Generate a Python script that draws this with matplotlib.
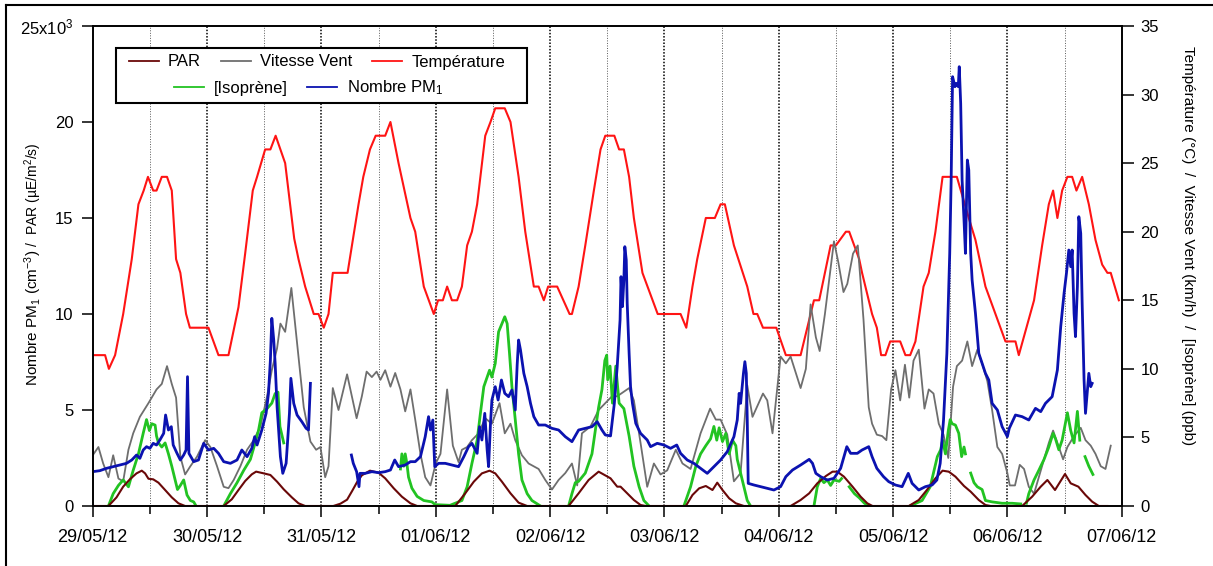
import numpy as np
import matplotlib
matplotlib.use('Agg')
from matplotlib import pyplot as plt
from matplotlib.patches import Rectangle
from matplotlib.lines import Line2D

plt.rcParams['font.family'] = 'Liberation Sans'
plt.rcParams['mathtext.fontset'] = 'custom'
plt.rcParams['mathtext.rm'] = 'Liberation Sans'
plt.rcParams['mathtext.it'] = 'Liberation Sans:italic'
plt.rcParams['mathtext.bf'] = 'Liberation Sans:bold'

nan = np.nan

# time axis: hours since 29/05/12 00:00
day_ticks = list(range(0, 217, 24))
day_labels = ['29/05/12', '30/05/12', '31/05/12', '01/06/12', '02/06/12',
              '03/06/12', '04/06/12', '05/06/12', '06/06/12', '07/06/12']
noon_ticks = list(range(12, 216, 24))

# Temperature (deg C), right axis
temp_h = [0, 2.6, 3.4, 4.7, 6.4, 8.2, 9.6, 10.7, 11.6, 12.7, 13.4, 14.5, 15.6,
          16.6, 17.5, 18.4, 19.6, 20.4, 24.3, 26.4, 28.5, 30.6, 32, 33.6, 34.5,
          36.2, 37.3, 38.4, 40.4, 42.3, 43.2, 44.6, 46.4, 47.4, 48.5, 49.5, 50.4,
          53.5, 55.8, 56.8, 58.2, 59.4, 61.4, 62.5, 64.2, 66.7, 67.7, 69.5, 71.6,
          72.5, 73.5, 74.4, 75.4, 76.5, 77.5, 78.6, 79.6, 80.7, 82.4, 83.5, 84.5,
          86.5, 87.7, 89.4, 90.8, 92.6, 93.6, 94.7, 95.6, 97.5, 100.1, 100.6, 102,
          103.4, 105.2, 106.6, 107.6, 109.5, 110.5, 111.5, 112.6, 113.6, 115.4,
          117.1, 118.6, 123.4, 124.6, 125.9, 126.9, 128.7, 130.6, 131.8, 132.7,
          134.6, 137.4, 138.7, 139.5, 140.7, 143.5, 145.5, 148.6, 151.4, 152.5,
          154.9, 156, 158.1, 158.8, 160.9, 161.5, 163.6, 164.6, 165.5, 166.4,
          167.4, 169.5, 170.6, 171.6, 172.7, 174.4, 175.5, 176.9, 178.4, 181.4,
          183.9, 185.3, 187.4, 189.5, 191.6, 193.7, 194.4, 197.6, 199.3, 200.7,
          201.6, 202.5, 203.5, 204.6, 205.6, 206.5, 207.7, 209.1, 210.5, 211.9,
          213, 213.7, 215.4]
temp_c = [11, 11, 10, 11, 14, 18, 22, 23, 24, 23, 23, 24, 24,
          23, 18, 17, 14, 13, 13, 11, 11, 14.5, 18.4, 23, 24,
          26, 26, 27, 25, 19.5, 18, 16, 14, 14, 13, 14, 17,
          17, 22, 24, 26, 27, 27, 28, 25, 21, 20, 16, 14,
          15, 15, 16, 15, 15, 16, 19, 20, 22, 27, 28, 29,
          29, 28, 24, 20, 16, 16, 15, 16, 16, 14, 14, 16,
          19, 23, 26, 27, 27, 26, 26, 24, 21, 17,
          15.4, 14, 14, 13, 16, 18, 21, 21, 22, 22,
          19, 16, 14, 14, 13, 13, 11, 11, 15, 15,
          19, 19, 20, 20, 18, 17, 14, 13, 11, 11,
          12, 12, 11, 11, 12, 16, 17, 20, 24, 24,
          21, 19.4, 16, 14, 12, 12, 11, 15, 19, 22,
          23, 21, 23, 24, 24, 23, 24, 22, 19.4, 17.6,
          17, 17, 15]

# Wind speed (km/h), right axis
vent_h = [0, 1.2, 2.2, 3.3, 4.3, 5.4, 6.4, 7.5, 8.5, 9.9, 11.7, 13.4, 14.5, 15.6,
          16.6, 17.5, 18.4, 19.4, 20.5, 21.9, 23.6, 24.7, 26.1, 27.5, 28.5, 29.6,
          31.0, 32.4, 33.8, 35.2, 36.6, 37.6, 38.7, 39.4, 40.4, 41.7, 42.9, 44.3,
          45.7, 46.9, 47.8, 48.8, 49.5, 50.4, 51.6, 53.4, 54.4, 55.4, 56.5, 57.5,
          58.6, 59.6, 60.4, 61.4, 62.5, 63.5, 64.6, 65.6, 66.7, 67.7, 68.8, 69.8,
          70.9, 72.0, 73.0, 74.4, 75.6, 76.8, 77.5, 78.6, 79.6, 81.0, 82.4, 83.8,
          85.4, 86.5, 87.7, 88.7, 90.1, 91.5, 93.6, 95.0, 96.4, 97.8, 99.2, 100.6,
          101.7, 102.7, 104.5, 106.2, 107.6, 109.0, 110.1, 112.6, 113.6, 115,
          116.4, 117.8, 119.2, 120.6, 122.4, 123.8, 125.5, 127.6, 129.6, 130.8,
          131.8, 133.2, 134.6, 136.0, 137.4, 138.5, 140.7, 141.6, 142.7, 144.4,
          145.5, 146.5, 147.6, 148.6, 149.7, 150.7, 151.8, 152.6, 153.7, 155.6,
          156.5, 157.6, 158.4, 159.6, 160.6, 161.8, 162.9, 163.6, 164.6, 165.7,
          166.6, 167.6, 168.5, 169.5, 170.5, 171.4, 172.3, 173.4, 174.6, 175.5,
          176.5, 177.6, 178.6, 179.6, 180.6, 181.4, 182.5, 183.6, 184.6, 185.7,
          186.7, 187.8, 188.8, 189.9, 190.9, 192.0, 192.5, 193.6, 194.6, 195.5,
          196.5, 197.6, 198.6, 199.7, 200.7, 201.6, 202.5, 203.7, 204.6, 206,
          207.4, 208.4, 209.5, 210.5, 211.6, 212.6, 213.7]
vent_kmh = [3.7, 4.3, 3.1, 2.1, 3.7, 2.0, 1.8, 4.1, 5.3, 6.5, 7.5, 8.5, 8.9, 10.2,
            8.9, 7.9, 3.6, 2.3, 2.9, 3.6, 4.8, 4.3, 2.9, 1.4, 1.3, 1.9,
            2.9, 4.1, 4.8, 5.8, 8.0, 9.9, 11.5, 13.3, 12.7, 15.9, 11.9, 7.2,
            4.7, 4.1, 4.3, 2.1, 2.9, 8.6, 7.0, 9.6, 8.0, 6.4, 8.0, 9.8,
            9.4, 9.8, 9.2, 9.9, 8.7, 9.7, 8.5, 6.9, 8.5, 6.3, 3.8, 2.1,
            1.5, 3.1, 3.8, 8.5, 4.4, 3.2, 4.1, 4.3, 4.8, 5.3, 6.4, 6.0,
            7.5, 5.3, 6.0, 4.8, 3.7, 3.1, 2.7, 1.9, 1.2, 1.9, 2.4, 3.1,
            1.5, 5.3, 5.8, 7.0, 7.5, 8.0, 8.0, 8.6, 7.7, 4.6,
            1.4, 3.1, 2.3, 2.6, 4.1, 3.1, 2.7, 5.3, 7.1, 6.3,
            6.3, 5.2, 1.8, 2.4, 8.8, 6.5, 8.2, 7.7, 5.3, 10.9,
            10.4, 10.9, 9.7, 8.6, 10.0, 14.7, 12.3, 11.3, 14.0, 19.3,
            17.8, 15.6, 16.2, 18.4, 19.0, 13.6, 7.2, 6.0, 5.2, 5.1,
            4.8, 8.5, 9.9, 7.7, 10.3, 7.9, 10.6, 11.4, 7.1, 8.5,
            8.2, 6.0, 5.2, 3.5, 8.7, 10.2, 10.6, 12.0, 10.2, 11.4,
            10.4, 9.1, 7.0, 4.3, 3.8, 2.4, 1.5, 1.5, 3.0, 2.7,
            1.4, 0.9, 2.1, 3.4, 4.6, 5.5, 4.6, 3.4, 4.3, 5.1,
            5.7, 4.8, 4.4, 3.8, 2.9, 2.7, 4.4]

# PAR (uE/m2/s), left axis
par_h = [0, 3.3, 5.0, 6.4, 7.8, 9.2, 10.3, 11.0, 11.7, 12.7, 13.8, 15.2, 16.6,
         18.0, 19.4, 27.5, 29.2, 30.6, 32.0, 33.4, 34.3, 35.9, 37.3, 38.7, 40.1,
         41.8, 43.2, 44.6, 50.5, 52, 53.4, 54.5, 55.5, 56.5, 58.2, 60, 61.4, 63.2,
         64.9, 66.7, 68.1, 76.1, 78.2, 80, 81.7, 83.3, 84.5, 85.9, 87.7, 89.4,
         91.2, 99.9, 102, 104.1, 106.2, 108.7, 110.1, 110.8, 112.2, 113.6, 115,
         116.1, 124.5, 125.9, 127.3, 128.7, 130.1, 131.1, 132.2, 133.6, 135,
         136.7, 146.5, 148.6, 150.4, 152.1, 153.9, 155.3, 156.3, 157.7, 159.5,
         161.2, 162.6, 163.7, 171.3, 173.4, 175.1, 176.9, 178.4, 179.7, 181.1,
         182.9, 184.3, 186, 187.4, 188.5, 195.1, 197.2, 199.0, 200.4, 202, 204.1,
         205.3, 206.9, 208.4, 209.8, 211.2, 213]
par_val = [0, 0, 450, 1007, 1389, 1700, 1840, 1700, 1420, 1389, 1215, 833, 450,
           140, 0, 0, 350, 833, 1300, 1650, 1790, 1700, 1615, 1267, 868,
           450, 140, 0, 0, 120, 330, 800, 1250, 1600, 1840, 1736, 1441, 920,
           486, 140, 0, 0, 660, 1267, 1700, 1840, 1700, 1267, 660, 174,
           0, 0, 660, 1354, 1788, 1441, 1007, 1007, 660, 312, 52,
           0, 0, 573, 920, 1042, 833, 1215, 833, 400, 140,
           0, 0, 312, 660, 1180, 1560, 1788, 1788, 1528, 1007,
           486, 140, 0, 0, 312, 833, 1441, 1840, 1788, 1528,
           1042, 746, 312, 52, 0, 0, 486, 1007, 1354, 833, 1667,
           1180, 1007, 573, 226, 0, 0]

# [Isoprene] (ppb), right axis, nan = no data
iso_h = [3.3, 4.3, 5.4, 6.4, 7.5, 8.5, 9.6, 10.6, 11.3, 11.9, 12.4, 13.1, 13.4,
         13.8, 14.5, 15.2, 15.9, 16.6, 17.3, 17.8, 18.4, 19.1, 19.8, 20.5, 21.2,
         21.7, 24,
         27.5, 28.9, 30.3, 31.7, 33.1, 34.1, 34.8, 35.5, 36.6, 37.6, 38.3, 38.9,
         39.3, 40.1, 50,
         64.6, 64.9, 65.3, 65.6, 65.95, 66.3, 67.0, 68.1, 69.5, 71.2, 71.9, 75,
         77.5, 78.6, 79.6, 80.7, 81.4, 82.1, 82.8, 83.3, 83.8, 84.5, 85.2, 85.9,
         86.5, 87.0, 87.5, 88.0, 88.7, 89.4, 90.1, 91.2, 92.2, 94, 97,
         99.9, 100.6, 101.3, 102, 103.4, 104.8, 106.2, 106.9, 107.5, 107.9,
         108.1, 108.6, 109.1, 109.8, 110.5, 111.5, 112.6, 113.6, 114.7, 115.7,
         116.8, 120,
         124.1, 125.5, 126.6, 127.6, 128.7, 129.7, 130.4, 131, 131.5, 132.2,
         132.9, 133.6, 134.3, 135, 135.3, 136, 136.7, 137.4, 138.1, 145,
         151.4, 152.1, 152.8, 153.5, 154.2, 154.9, 155.6, 156.7, 157.2, 158,
         158.8, 159.9, 160.9, 162, 163, 167,
         171.6, 174.1, 175.8, 177.3, 178, 178.4, 179, 179.6, 180, 180.4, 181.1,
         181.8, 182.4, 182.9, 183.2, 183.8,
         184.3, 185, 185.7, 186.7, 187.4, 188.8, 190.9, 193, 194.8, 195.5,
         196, 196.5, 197.6, 198.6, 199.7, 200.7, 201.6, 202.1, 202.8, 203.5,
         204.6, 205.3, 206, 206.7, 207.2, 207.8,
         208.3, 209.1, 209.96]
iso_ppb = [0, 0.9, 1.5, 1.9, 1.4, 2.6, 3.8, 5.3, 6.3, 5.5, 6.0, 5.9, 5.1,
           4.6, 4.3, 4.6, 3.8, 2.9, 1.9, 1.2, 1.5, 1.9, 0.8, 0.4, 0.3,
           0, nan,
           0, 0.9, 1.7, 2.6, 3.4, 4.6, 5.5, 6.8, 7.1, 7.5, 8.2, 8.3,
           5.8, 4.6, nan,
           2.7, 3.8, 2.9, 3.8, 3.1, 2.1, 1.3, 0.7, 0.4, 0.3, 0.1, 0.05,
           0.4, 1.4, 3.1, 4.8, 6.8, 8.7, 9.4, 9.9, 9.4, 10.4, 12.7, 13.3,
           13.8, 13.3, 11.1, 8.7, 6.3, 3.8, 1.9, 0.9, 0.4, 0, nan,
           0, 0.9, 1.7, 1.8, 2.4, 3.8, 7.2, 8.5, 10.6, 11.0,
           9.2, 10.2, 7.5, 10.2, 7.5, 7.1, 5.1, 2.9, 1.4, 0.4,
           0, nan,
           0, 1.4, 2.9, 3.8, 4.4, 4.9, 5.8, 4.8, 5.7, 4.7,
           5.3, 3.8, 4.8, 4.4, 3.4, 2.4, 1.4, 0.4, 0, nan,
           0, 1.4, 2.0, 1.7, 1.9, 1.5, 1.9, 1.8, 2.0, nan,
           1.4, 0.9, 0.6, 0.2, 0, nan,
           0, 0.4, 1.4, 3.6, 4.1, 4.8, 3.8, 5.5, 6.3, 6.0, 5.9,
           5.3, 3.6, 4.3, 3.8, nan,
           2.4, 1.7, 1.4, 1.2, 0.4, 0.3, 0.2, 0.2, 0.15, nan,
           0.2, 0.9, 1.9, 2.6, 3.4, 4.3, 5.3, 4.9, 4.1, 4.8,
           6.8, 5.5, 4.6, 6.9, 4.8, nan,
           3.6, 2.9, 2.3]

# Nombre PM1 (cm-3), left axis, nan = no data
pm1_h = [0, 1.5, 2.9, 4.3, 5.7, 7.1, 8.2, 9.2, 9.9, 10.6, 11.3, 12.0, 12.7, 13.4,
         14.1, 14.9, 15.3, 15.9, 16.5, 16.9, 17.7, 18.4, 19.1, 19.6, 19.9, 20.2,
         21.2, 22.2, 23.3, 24.3, 25.4, 26.4, 27.5, 28.9, 30.3, 31.3, 32.4, 33.4,
         34.0, 34.5, 35.5, 36.4, 36.9, 37.3, 37.6, 38.0, 38.3, 38.7, 39.4, 39.9,
         40.6, 41.3, 41.6, 42.2, 42.9, 43.9, 44.8, 45.3, 45.7, 50,
         54.3, 54.7, 55.4, 55.9, 56.1, 57.2, 58.6, 60, 61.4, 62.5, 63.4, 64.2,
         65.6, 66.7, 67.7, 68.8, 69.8, 70.5, 70.9, 71.4, 71.8, 72.6, 74.0, 75.4,
         76.8, 77.9, 78.9, 79.6, 80.7, 81.2, 81.7, 82.3, 82.8, 83.1, 83.5, 83.8,
         84.5, 85.1, 85.8, 86.5, 87.3, 88.0, 88.7, 89.1, 89.4, 89.8, 90.5, 91.2,
         91.9, 92.6, 93.6, 95.0, 96.4, 97.8, 99.2, 100.6, 102.0, 103.4, 104.8,
         105.9, 106.9, 107.6, 108.7, 109.5, 110.1, 110.7, 110.9, 111.2, 111.5,
         111.7, 112.0, 112.2, 112.6, 112.9, 113.3, 114.0, 115.0, 116.4, 117.1,
         118.5, 119.9, 121.3, 122.6, 123.4, 124.8, 126.2, 127.6, 129.0, 130.4,
         131.8, 133.2, 134.6, 135.3, 135.7, 136.0, 136.6, 136.9, 137.2, 137.4,
         137.6, 138.8, 140.2, 141.6, 143.0, 144.4, 145.5, 146.9, 148.6, 150.4,
         151.1, 151.8, 152.8, 154.2, 155.6, 157.0, 158.3, 159.1, 160.5, 161.5,
         162.9, 163.6, 164.6, 166.0, 167.1, 168.5, 169.9, 171.2, 172.0, 173.4,
         174.8, 176.2, 177.2, 177.9, 178.6, 179.3, 179.9, 180.2, 180.5, 181.0,
         181.3, 181.7, 181.9, 182.2, 182.5, 182.9, 183.2, 183.6, 183.9, 184.3,
         184.6, 185.3, 186.0, 186.7, 187.4, 188.1, 188.8, 189.9, 190.9, 192.0,
         192.4, 193.7, 195.1, 196.5, 197.9, 199.0, 200.0, 201.4, 202.5, 203.2,
         203.9, 204.4, 204.9, 205.3, 205.6, 206.0, 206.3, 206.7, 207.0, 207.4,
         207.7, 208.1, 208.4, 208.8, 209.1, 209.5, 209.8]
pm1_cm3 = [1788, 1840, 1962, 2049, 2135, 2222, 2396, 2656, 2482, 2917, 3090, 3003,
           3264, 3177, 3437, 3785, 4739, 3958, 4132, 3177, 2743, 2396, 2656, 2917,
           6736, 2743, 2309, 2396, 3264, 2917, 3003, 2743, 2309, 2222, 2396, 2917,
           2569, 3003, 3611, 3177, 3958, 4826, 5868, 7604, 9774, 8645, 7430, 5174,
           2569, 1701, 2222, 4826, 6649, 5347, 4739, 4392, 4045, 3958, 6388, nan,
           2656, 2222, 1788, 1007, 1701, 1701, 1788, 1736, 1788, 1875, 2396, 2049,
           2135, 2309, 2309, 2569, 3611, 4653, 3958, 4479, 2049, 2222, 2222, 2135,
           2049, 2569, 3090, 3264, 2743, 4132, 3437, 4826, 2917, 2049, 4305, 5521,
           6215, 5521, 6562, 5868, 5694, 6041, 5000, 7343, 8645, 8124, 6909, 6215,
           5347, 4653, 4218, 4218, 4045, 3958, 3611, 3351, 3958, 4045, 4132,
           4392, 3958, 3700, 3650, 5347, 7257, 9687, 11944, 10382, 11770,
           13507, 12812, 10555, 7951, 6215, 5347, 4305, 3785, 3437, 3090,
           3264, 3177, 3003, 3177, 2743, 2396, 2222, 1962, 1701, 2049,
           2396, 2830, 3611, 4479, 5868, 5347, 6909, 7517, 6909, 4479,
           1180, 1094, 1007, 920, 833, 1007, 1528, 1875, 2135, 2430,
           2222, 1701, 1528, 1354, 1441, 1962, 3090, 2743, 2743, 2917,
           3090, 2569, 1962, 1528, 1267, 1094, 1007, 1701, 1180, 833,
           1007, 1094, 1354, 2222, 4479, 7951, 13159, 16979, 22360, 21839,
           22013, 21839, 22881, 20971, 16979, 14895, 13159, 18020, 17499, 13159,
           11770, 10034, 7951, 7430, 6909, 6562, 5347, 5000, 4132, 3611,
           4045, 4739, 4653, 4479, 5087, 4913, 5347, 5694, 7083, 9340,
           11076, 12118, 13333, 12465, 13333, 10034, 8819, 11423, 15069, 14201,
           10555, 6562, 4826, 6041, 6909, 6215, 6388]

W, H = 1213, 566
fig = plt.figure(figsize=(W / 100, H / 100), dpi=100)
ax = fig.add_axes([92.7 / W, 1 - 506 / H, (1121.7 - 92.7) / W, (506 - 26) / H])
ax2 = ax.twinx()
ax.set_zorder(ax2.get_zorder() + 1)
ax.patch.set_visible(False)

# 12 h grid, midnight lines darker
for h in range(12, 216, 12):
    if h % 24 == 0:
        ax2.axvline(h, color='k', lw=1.1, ls=(0, (1, 1.1)), zorder=0)
    else:
        ax2.axvline(h, color='0.35', lw=0.7, ls=(0, (1, 1.6)), zorder=0)

l_temp, = ax2.plot(temp_h, temp_c, color='#ff1414', lw=1.5, label='Température')
l_vent, = ax2.plot(vent_h, vent_kmh, color='#6e6e6e', lw=1.3, label='Vitesse Vent')
l_iso, = ax2.plot(iso_h, iso_ppb, color='#22c322', lw=2.0, label='[Isoprène]')
l_par, = ax.plot(par_h, par_val, color='#6a0808', lw=1.5, label='PAR')
l_pm1, = ax.plot(pm1_h, pm1_cm3, color='#0b12b0', lw=2.0, label='Nombre PM$_1$')

ax.set_xlim(0, 216)
ax.set_xticks(day_ticks)
ax.set_xticklabels(day_labels, fontsize=13)
ax.set_xticks(noon_ticks, minor=True)
ax.tick_params(axis='x', which='major', direction='out', length=8, width=1.1, pad=8.5)
ax.tick_params(axis='x', which='minor', direction='out', length=6, width=1.1)

ax.set_ylim(0, 25000)
ax.set_yticks(range(0, 25001, 5000))
ax.set_yticklabels(['0', '5', '10', '15', '20', '25x10$^3$'])
ax.tick_params(axis='y', direction='out', length=8, width=1.1, pad=6, labelsize=12)

ax2.set_ylim(0, 35)
ax2.set_yticks(range(0, 36, 5))
ax2.tick_params(axis='y', direction='out', length=8.5, width=1.1, pad=5, labelsize=12)

for a in (ax, ax2):
    for s in a.spines.values():
        s.set_linewidth(1.2)

# legend: boxed, two centred rows
ax.add_patch(Rectangle((0.0226, 0.8396), 0.3995, 0.1146, transform=ax.transAxes,
                       facecolor='white', edgecolor='k', lw=1.5, zorder=4))
leg_kw = dict(loc='center', frameon=False, fontsize=12, handlelength=1.8,
              handletextpad=0.55, columnspacing=1.2, borderpad=0, borderaxespad=0)
leg1 = ax.legend(handles=[l_par, l_vent, l_temp], ncol=3,
                 bbox_to_anchor=(0.218, 0.925), **leg_kw)
leg1.set_zorder(6)
ax.add_artist(leg1)
leg2 = ax.legend(handles=[l_iso, l_pm1], ncol=2,
                 bbox_to_anchor=(0.210, 0.871), **leg_kw)
leg2.set_zorder(6)
for leg in (leg1, leg2):
    for ln in leg.get_lines():
        ln.set_linewidth(1.3)

# axis titles
fig.text(33 / W, 1 - 250 / H, 'Nombre PM$_1$ (cm$^{-3}$)', rotation=90,
         ha='center', va='top', fontsize=11)
fig.text(33 / W, 1 - 250 / H, ' /  PAR (µE/m$^2$/s)', rotation=90,
         ha='center', va='bottom', fontsize=10)
fig.text(1188 / W, 1 - 246 / H,
         'Température (°C)  /  Vitesse Vent (km/h)  /  [Isoprène] (ppb)',
         rotation=270, ha='center', va='center', fontsize=11)

# frame of the original figure (top and left edges)
fig.add_artist(Line2D([6 / W, 1], [1 - 4.5 / H, 1 - 4.5 / H],
                      transform=fig.transFigure, color='k', lw=1.5))
fig.add_artist(Line2D([6 / W, 6 / W], [0, 1 - 4.5 / H],
                      transform=fig.transFigure, color='k', lw=1.5))

fig.savefig('out.png', dpi=100)
